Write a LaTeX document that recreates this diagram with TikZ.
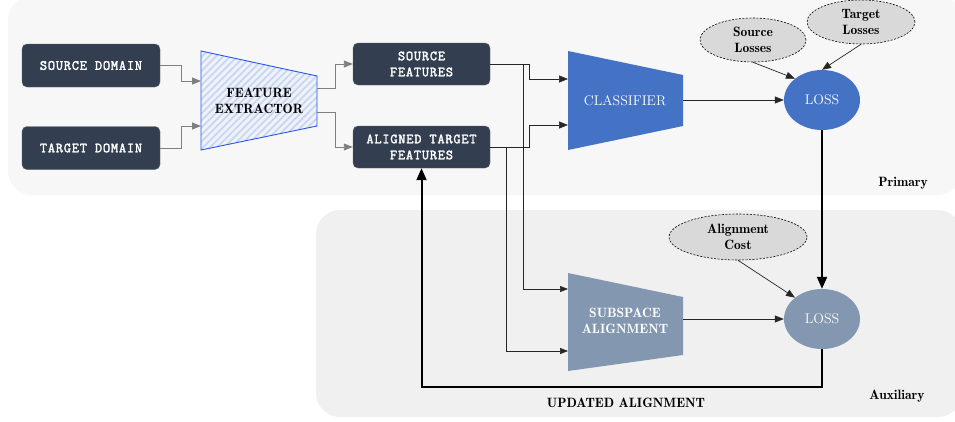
\documentclass[tikz,border=0pt]{standalone}
\usepackage{fontspec}
\newfontfamily\monob{Latin Modern Mono}[FakeBold=2.2,LetterSpace=5.5]
\usetikzlibrary{arrows.meta,patterns.meta,shapes.geometric}
\definecolor{primbg}{HTML}{F7F7F7}
\definecolor{auxbg}{HTML}{F0F0F0}
\definecolor{darkbox}{HTML}{333E50}
\definecolor{boxedge}{HTML}{5A6270}
\definecolor{clblue}{HTML}{4472C4}
\definecolor{slate}{HTML}{8497B0}
\definecolor{ellgray}{HTML}{D9D9D9}
\definecolor{feedge}{HTML}{2A55F0}
\definecolor{hatchbg}{HTML}{EEF2FB}
\definecolor{hatchln}{HTML}{C9D6EF}
\definecolor{garrowc}{HTML}{7F7F7F}
\tikzset{
  dbox/.style={rectangle, rounded corners=5pt, fill=darkbox, draw=boxedge, line width=0.4pt,
    text=white, align=center, font=\monob\fontsize{14}{16}\selectfont,
    minimum width=137pt, minimum height=42pt, inner sep=0pt},
  lossell/.style={ellipse, minimum width=76pt, minimum height=60pt, inner sep=0pt,
    text=white, font=\fontsize{14}{16}\selectfont},
  costell/.style={ellipse, fill=ellgray, draw=black, dash pattern=on 2pt off 1.5pt, line width=0.6pt, inner sep=0pt,
    align=center, font=\fontseries{b}\fontsize{13.5}{16}\selectfont},
  garrow/.style={draw=garrowc, line width=0.9pt, -{Triangle[length=9pt,width=7pt]}, garrowc},
  barrow/.style={draw=black!85, line width=0.7pt, -{Triangle[length=9pt,width=7pt]}},
  sarrow/.style={draw=black!85, line width=0.7pt, -{Triangle[length=8pt,width=6pt]}},
  thick arrow/.style={draw=black, line width=2pt, -{Triangle[length=12pt,width=10pt]}},
  trtext/.style={align=center, font=\fontseries{b}\fontsize{13.5}{16}\selectfont, inner sep=0pt},
  lbl/.style={font=\fontseries{b}\fontsize{13.5}{16}\selectfont, inner sep=0pt}
}
\begin{document}
\begin{tikzpicture}[x=1pt,y=-1pt]
\useasboundingbox (0,0) rectangle (955,421);
% backgrounds
\fill[primbg, rounded corners=24pt] (8,-4) rectangle (962,195);
\fill[auxbg, rounded corners=24pt] (316,210) rectangle (962,417);

% input boxes
\node[dbox, minimum width=138pt, minimum height=43pt] (sd) at (91,65.5) {SOURCE DOMAIN};
\node[dbox, minimum width=138pt, minimum height=43pt] (td) at (91,148) {TARGET DOMAIN};
\node[dbox] (sf) at (421.5,64) {SOURCE\\FEATURES};
\node[dbox] (af) at (421.5,147) {ALIGNED TARGET\\FEATURES};

% feature extractor
\fill[hatchbg] (201,51) -- (317,76) -- (317,126) -- (201,150) -- cycle;
\path[pattern={Lines[angle=45,distance=5pt,line width=1.8pt]}, pattern color=hatchln]
  (201,51) -- (317,76) -- (317,126) -- (201,150) -- cycle;
\draw[feedge, line width=0.9pt] (201,51) -- (317,76) -- (317,126) -- (201,150) -- cycle;
\node[trtext] (fe) at (259,101) {FEATURE\\EXTRACTOR};
\coordinate (fein1) at (201,81);
\coordinate (fein2) at (201,126);
\coordinate (feout1) at (317,88);
\coordinate (feout2) at (317,112);

% classifier
\fill[clblue] (568,51) -- (683,75) -- (683,126) -- (568,150) -- cycle;
\node[trtext, text=white, font=\fontsize{14}{16}\selectfont] (cl) at (625,101) {CLASSIFIER};
\coordinate (clin1) at (568,79);
\coordinate (clin2) at (568,125);
\coordinate (clout) at (683,100);

% subspace alignment
\fill[slate] (568,273) -- (683,297) -- (683,355) -- (568,371) -- cycle;
\node[trtext, text=white] (sa) at (625,321) {SUBSPACE\\ALIGNMENT};
\coordinate (sain1) at (568,289);
\coordinate (sain2) at (568,351);
\coordinate (saout) at (683,319);

% losses
\node[lossell, fill=clblue] (loss1) at (822,100) {LOSS};
\node[lossell, fill=slate] (loss2) at (822,319) {LOSS};
\node[costell, minimum width=106pt, minimum height=44pt] (sl) at (753,40) {Source\\Losses};
\node[costell, minimum width=108pt, minimum height=44pt] (tl) at (861,22) {Target\\Losses};
\node[costell, minimum width=138pt, minimum height=46pt] (ac) at (738,237) {Alignment\\Cost};

% gray connectors
\draw[garrow] (sd.east) -- ++(21,0) |- (fein1);
\draw[garrow] (td.east) -- ++(21,0) |- (fein2);
\draw[garrow] (feout1) -- ++(18,0) |- (sf.west);
\draw[garrow] (feout2) -- ++(18,0) |- (af.west);

% feature connectors
\draw[barrow] (sf.east) -- ++(39,0) |- (clin1);
\draw[barrow] (af.east) -- ++(39,0) |- (clin2);
\draw[sarrow] (sf.east) -- ++(33,0) |- (sain1);
\draw[sarrow] (af.east) -- ++(16,0) |- (sain2);

% to losses
\draw[barrow] (clout) -- (loss1.west);
\draw[barrow] (saout) -- (loss2.west);
\draw[barrow] (sl.south) -- (loss1.north west);
\draw[barrow] (tl.south) -- (loss1.north);
\draw[barrow] (ac.south) -- (loss2.north west);

% thick connectors
\draw[thick arrow] (loss1.south) -- (loss2.north);
\draw[thick arrow] (loss2.south) -- ++(0,38) -| (af.south);

% labels
\node[lbl] (ua) at (626,403) {UPDATED ALIGNMENT};
\node[lbl] (prim) at (903,183) {Primary};
\node[lbl] (aux) at (897,396) {Auxiliary};
\end{tikzpicture}
\end{document}
